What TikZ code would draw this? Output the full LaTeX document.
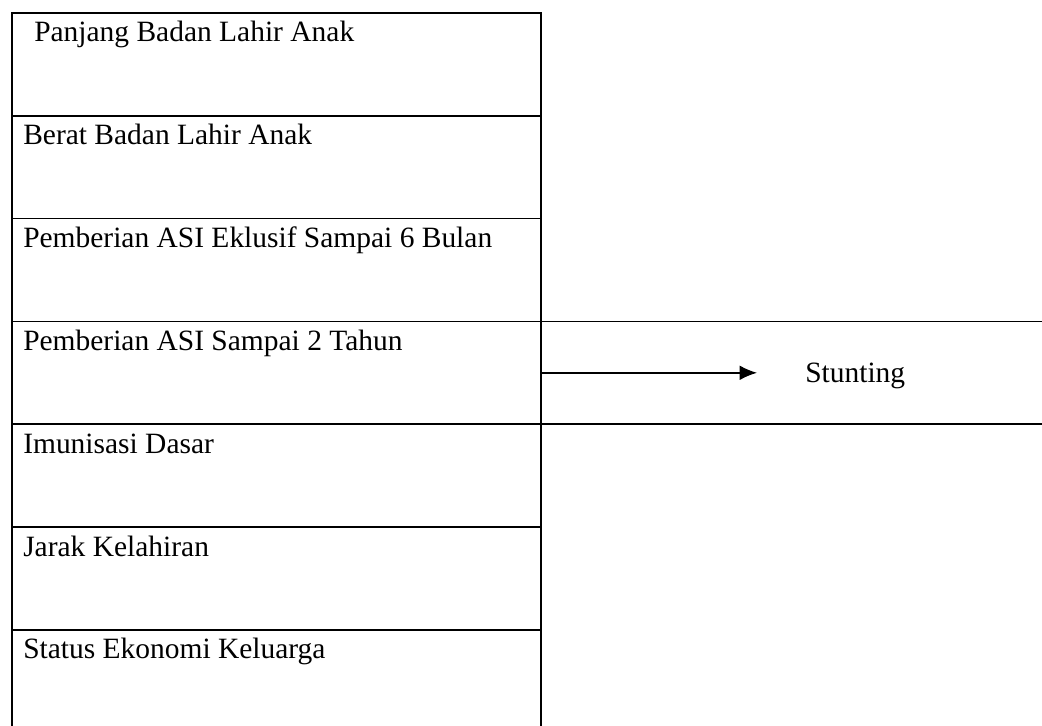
\documentclass[tikz,border=0pt]{standalone}
\usepackage{fontspec}
\setmainfont{Liberation Serif}
\usetikzlibrary{positioning,arrows.meta}

\begin{document}
\begin{tikzpicture}[x=0.75pt, y=0.75pt,
    row/.style={draw, line width=1.3pt, minimum width=396.75pt, minimum height=77.1pt, inner sep=0pt, outer sep=0pt},
    rowtext/.style={anchor=base west, inner sep=0pt, font=\fontsize{22.1}{26}\selectfont},
    flow/.style={-{Latex[length=13pt, width=11pt]}, line width=1.1pt}]
    \useasboundingbox (0,0) rectangle (1042,725);

    \node[row, anchor=north west] (row1) at (12,712) {};
    \foreach \i [evaluate=\i as \prev using {int(\i-1)}] in {2,...,7} {
        \node[row, below=0pt of row\prev] (row\i) {};
    }

    \foreach \i/\dx/\txt in {1/22/Panjang Badan Lahir Anak, 2/11/Berat Badan Lahir Anak,
        3/11/Pemberian ASI Eklusif Sampai 6 Bulan, 4/11/Pemberian ASI Sampai 2 Tahun,
        5/11/Imunisasi Dasar, 6/11/Jarak Kelahiran, 7/11/Status Ekonomi Keluarga} {
        \node[rowtext, xshift=\dx*0.75pt, yshift=-29*0.75pt] (label\i) at (row\i.north west) {\txt};
    }

    \node[row, minimum width=380pt, anchor=west] (stuntbox) at (row4.east) {};
    \node[rowtext] (stunt) at (805,342) {Stunting};
    \draw[flow, shorten >=36pt] (row4.east) -- (row4.east -| stunt.west);
\end{tikzpicture}
\end{document}
